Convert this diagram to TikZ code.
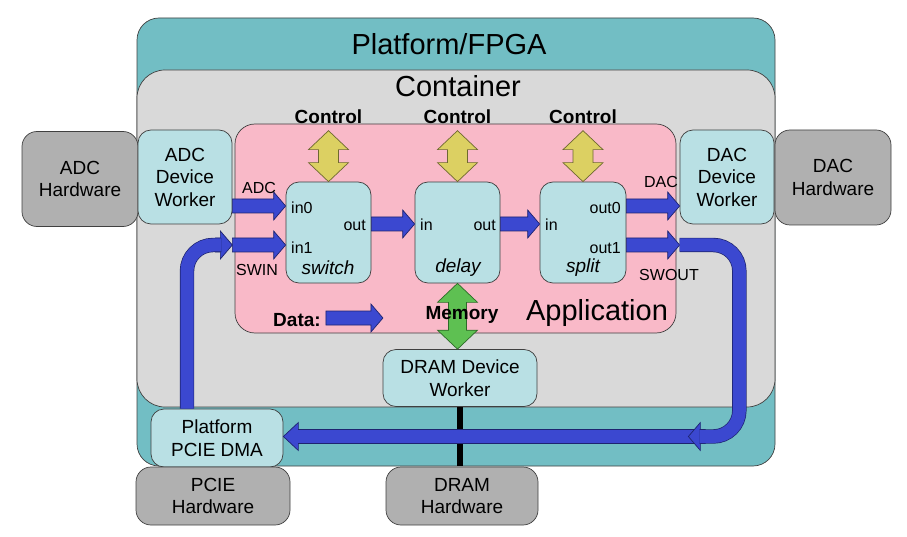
\documentclass[tikz,border=0pt]{standalone}
\usepackage{fontspec}
\setmainfont{Liberation Sans}
\usetikzlibrary{calc}

\definecolor{fpga}{HTML}{72BEC4}
\definecolor{cont}{HTML}{D9D9D9}
\definecolor{app}{HTML}{F9B9C8}
\definecolor{wrk}{HTML}{B9E0E4}
\definecolor{hw}{HTML}{B0B0B0}
\definecolor{data}{HTML}{3B48D0}
\definecolor{dataD}{HTML}{1E2470}
\definecolor{ctl}{HTML}{DCD062}
\definecolor{ctlD}{HTML}{6E6830}
\definecolor{mem}{HTML}{5EC052}
\definecolor{memD}{HTML}{2E6A28}

\tikzset{
    box/.style={draw=black!75, line width=0.7pt, align=center, inner sep=0pt,
        font=\fontsize{19}{22.5}\selectfont},
    hwbox/.style={box, fill=hw, rounded corners=15pt},
    wk/.style={box, fill=wrk, rounded corners=13pt},
    title/.style={font=\fontsize{29}{32}\selectfont},
    port/.style={font=\fontsize{16}{18}\selectfont, inner sep=0pt},
    wname/.style={font=\fontsize{19}{21}\selectfont\itshape, inner sep=0pt},
    bold/.style={font=\fontsize{19}{21}\selectfont\bfseries, inner sep=1pt},
    fatarrow/.style n args={3}{draw=dataD, fill=data, line width=0.7pt, to path={
        ($(\tikztostart)!#1!90:(\tikztotarget)$)
        -- ($(\tikztotarget)!#3!(\tikztostart)!#1!90:(\tikztotarget)$)
        -- ($(\tikztotarget)!#3!(\tikztostart)!#2!90:(\tikztotarget)$)
        -- (\tikztotarget)
        -- ($(\tikztotarget)!#3!(\tikztostart)!#2!-90:(\tikztotarget)$)
        -- ($(\tikztotarget)!#3!(\tikztostart)!#1!-90:(\tikztotarget)$)
        -- ($(\tikztostart)!#1!-90:(\tikztotarget)$) -- cycle}},
    fat/.style={fatarrow={7pt}{14pt}{12pt}},
    dbl/.style n args={3}{line width=0.7pt, to path={
        (\tikztostart)
        -- ($(\tikztostart)!#3!(\tikztotarget)!#2!90:(\tikztotarget)$)
        -- ($(\tikztostart)!#3!(\tikztotarget)!#1!90:(\tikztotarget)$)
        -- ($(\tikztotarget)!#3!(\tikztostart)!#1!90:(\tikztotarget)$)
        -- ($(\tikztotarget)!#3!(\tikztostart)!#2!90:(\tikztotarget)$)
        -- (\tikztotarget)
        -- ($(\tikztotarget)!#3!(\tikztostart)!#2!-90:(\tikztotarget)$)
        -- ($(\tikztotarget)!#3!(\tikztostart)!#1!-90:(\tikztotarget)$)
        -- ($(\tikztostart)!#3!(\tikztotarget)!#1!-90:(\tikztotarget)$)
        -- ($(\tikztostart)!#3!(\tikztotarget)!#2!-90:(\tikztotarget)$)
        -- cycle}},
    ctlarrow/.style={dbl={10pt}{20pt}{19pt}, fill=ctl, draw=ctlD},
    memarrow/.style={dbl={9pt}{20pt}{19pt}, fill=mem, draw=memD},
    pipe/.style={draw=dataD, double=data, double distance=13pt, line width=0.7pt,
        rounded corners=26pt},
}

\begin{document}
\begin{tikzpicture}[x=1pt,y=-1pt]
    \useasboundingbox (0,0) rectangle (907,537);

    \node[box, fill=fpga, rounded corners=22pt, minimum width=638, minimum height=448] (plat) at (456,242) {};
    \node[title] (platT) at (449,44) {Platform/FPGA};
    \node[box, fill=cont, rounded corners=28pt, minimum width=638, minimum height=337] (cont) at (456,238.5) {};
    \node[title] (contT) at (458,86) {Container};
    \node[box, fill=app, rounded corners=20pt, minimum width=441, minimum height=209] (app) at (455.5,228.5) {};
    \node[title] (appT) at (597,313) {Application};

    \draw[line width=6pt] (460,405) coordinate (dk) -- (dk |- 0,466);

    \node[hwbox, minimum width=116, minimum height=95] (adcH) at (80,179) {ADC\\Hardware};
    \node[wk, minimum width=94, minimum height=94] (adcW) at (185,177) {ADC\\Device\\Worker};
    \node[wk, minimum width=94, minimum height=94] (dacW) at (727,177) {DAC\\Device\\Worker};
    \node[hwbox, minimum width=116, minimum height=95] (dacH) at (833,177.5) {DAC\\Hardware};
    \node[wk, minimum width=85, minimum height=101] (sw) at (328.5,232.5) {};
    \node[wk, minimum width=85, minimum height=101] (dl) at (457.5,232.5) {};
    \node[wk, minimum width=86, minimum height=101] (sp) at (583,232.5) {};
    \node[wk, minimum width=154, minimum height=57] (dramW) at (460,378) {DRAM Device\\Worker};
    \node[hwbox, minimum width=152, minimum height=58] (dramH) at (462,496) {DRAM\\Hardware};
    \node[wk, minimum width=132, minimum height=58] (dma) at (217,438) {Platform\\PCIE DMA};
    \node[hwbox, minimum width=154, minimum height=58] (pcieH) at (213,496) {PCIE\\Hardware};

    \node[port, anchor=west] (swI0) at (291,208) {in0};
    \node[port, anchor=west] (swI1) at (291,248) {in1};
    \node[port, anchor=east] (swO) at (366,225) {out};
    \node[wname] (swN) at (328,268) {switch};
    \node[port, anchor=west] (dlI) at (420,225) {in};
    \node[port, anchor=east] (dlO) at (496,225) {out};
    \node[wname] (dlN) at (458,268) {delay};
    \node[port, anchor=west] (spI) at (545,225) {in};
    \node[port, anchor=east] (spO0) at (621,208) {out0};
    \node[port, anchor=east] (spO1) at (621,248) {out1};
    \node[wname] (spN) at (583,268) {split};

    \coordinate (a1) at (adcW.east |- 0,206);
    \coordinate (a2) at (sw.west |- 0,206);
    \coordinate (b1) at (adcW.east |- 0,245);
    \coordinate (b2) at (sw.west |- 0,245);
    \coordinate (c1) at (sw.east |- 0,224);
    \coordinate (c2) at (dl.west |- 0,224);
    \coordinate (d1) at (dl.east |- 0,224);
    \coordinate (d2) at (sp.west |- 0,224);
    \coordinate (e1) at (sp.east |- 0,206);
    \coordinate (e2) at (dacW.west |- 0,206);
    \coordinate (f1) at (sp.east |- 0,245);
    \coordinate (f2) at (dacW.west |- 0,245);
    \draw[fat] (a1) to (a2);
    \draw[fat] (b1) to (b2);
    \draw[fat] (c1) to (c2);
    \draw[fat] (d1) to (d2);
    \draw[fat] (e1) to (e2);
    \draw[fat] (f1) to (f2);

    \coordinate (h1) at ($(b1)+(-17,0)$);
    \draw[fat] (h1) to (b1);
    \draw[pipe] ($(dma.north)+(-30,0)$) |- ($(b1)+(-11,0)$);

    \coordinate (g1) at ($(dma.east)+(405,-1.5)$);
    \coordinate (g2) at ($(g1)+(12,0)$);
    \coordinate (g0) at ($(g1)+(17,0)$);
    \coordinate (dmaIn) at (dma.east |- g1);
    \draw[fatarrow={7pt}{14pt}{15pt}] (g2) to (dmaIn);
    \draw[fat] (g0) to (g1);
    \draw[pipe] (f2) -| ($(g1)+(51,0)$) -- ($(g1)+(11,0)$);

    \node[port] (adcL) at (259,188) {ADC};
    \node[port] (swinL) at (257,270) {SWIN};
    \node[port] (dacL) at (661,182) {DAC};
    \node[port] (swoutL) at (669,275) {SWOUT};

    \foreach \w in {sw,dl,sp}{
        \node[bold] (c\w) at (\w.north |- 0,117) {Control};
        \coordinate (t\w) at ($(\w.north)+(0,-51)$);
        \draw[ctlarrow] (t\w) to (\w.north);
    }

    \coordinate (m2) at (dl.south |- dramW.north);
    \draw[memarrow] (dl.south) to (m2);
    \node[bold] (memL) at (462,315) {Memory};

    \node[bold] (dataL) at (297,320) {Data:};
    \coordinate (k1) at ($(dataL.east)+(4,-2)$);
    \coordinate (k2) at ($(k1)+(57,0)$);
    \draw[fat] (k1) to (k2);
\end{tikzpicture}
\end{document}
